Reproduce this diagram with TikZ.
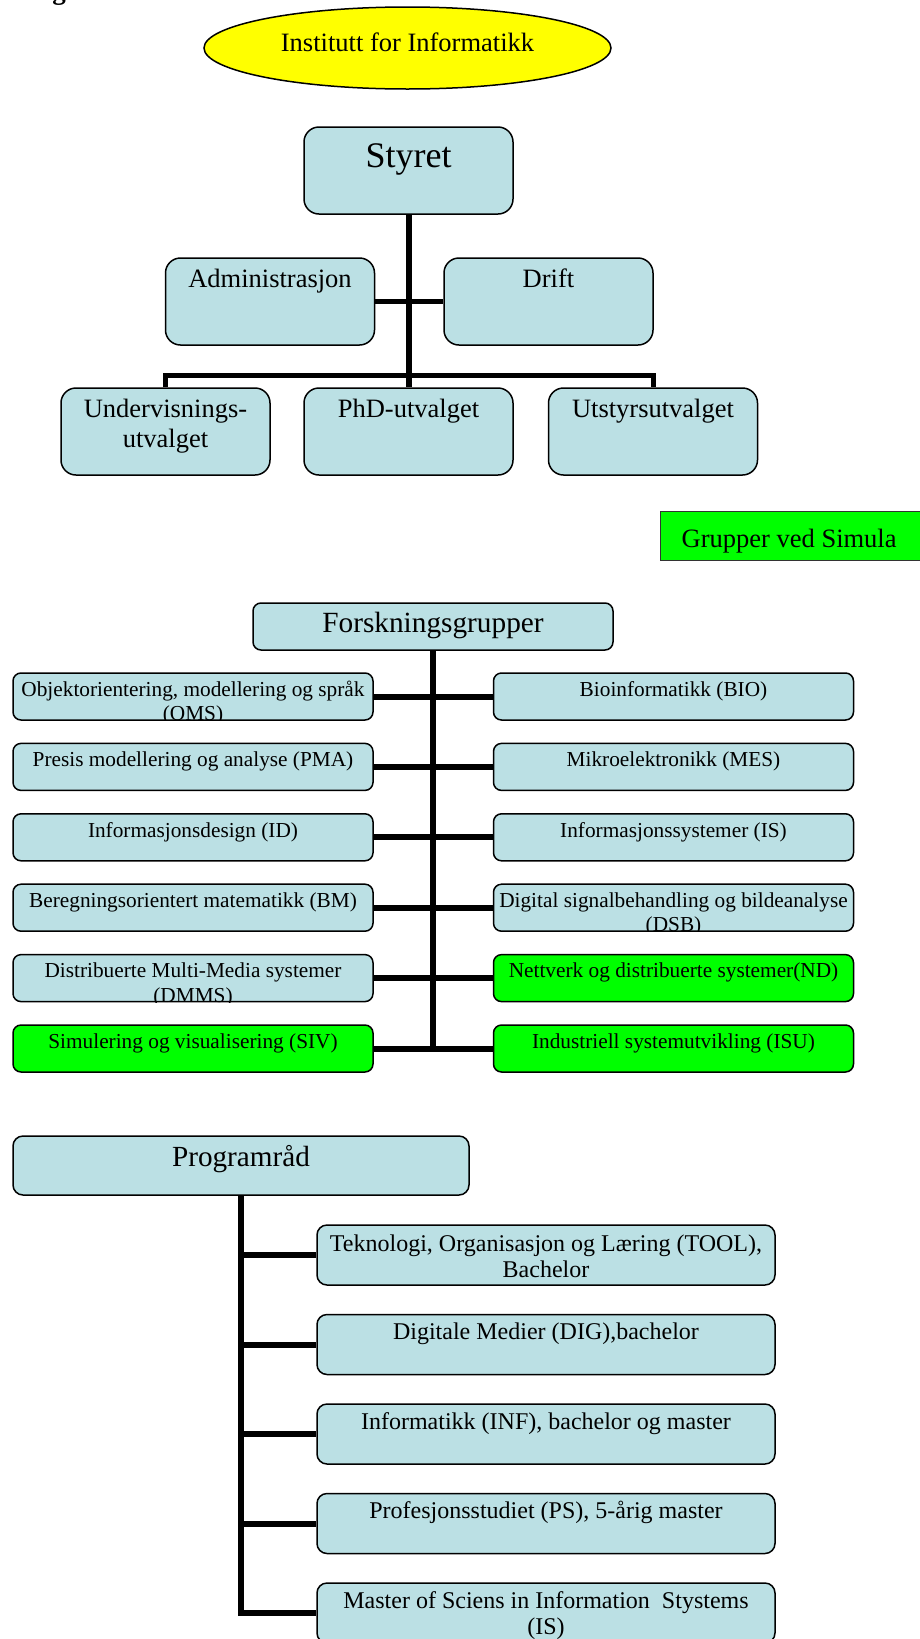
\documentclass[tikz,border=0pt]{standalone}
\usepackage{fontspec}
\setmainfont{Liberation Serif}
\usetikzlibrary{shapes.geometric}
\definecolor{lb}{RGB}{187,224,228}
\definecolor{gr}{RGB}{0,255,0}
\definecolor{ye}{RGB}{255,255,0}
\newcommand\fsz[1]{\fontsize{#1}{#1}\selectfont}
\newcommand\btxt[4]{\node[anchor=base,inner sep=0pt,font=#3] at ([yshift=-#2]#1.north) {#4};}
\begin{document}
\begin{tikzpicture}[x=1pt,y=-1pt,
  box/.style={draw=black,line width=1.5pt,rounded corners=8pt,inner sep=0pt,fill=lb},
  bigbox/.style={box,rounded corners=15pt,minimum width=209pt,minimum height=87pt},
  fbox/.style={box,minimum width=360pt,minimum height=47pt},
  pbox/.style={box,rounded corners=10pt,minimum width=458pt,minimum height=60pt},
  conn/.style={line width=6pt},
  thinconn/.style={line width=5pt}]
\useasboundingbox (0,0) rectangle (920,1639);

% fragment of heading at the top
\node[anchor=base,inner sep=0pt,font=\fsz{27}\bfseries] (hd) at (59,-1) {g};

% top ellipse
\node[ellipse,draw=black,line width=1.5pt,fill=ye,minimum width=407pt,minimum height=82pt,inner sep=0pt] (inst) at (407.5,48) {};
\btxt{inst}{45pt}{\fsz{26.5}}{Institutt for Informatikk}

% board
\node[bigbox] (sty) at (408.5,170.5) {};
\btxt{sty}{41pt}{\fsz{36}}{Styret}
\node[bigbox] (adm) at (270,301.5) {};
\btxt{adm}{30pt}{\fsz{26.5}}{Administrasjon}
\node[bigbox] (dri) at (548.5,301.5) {};
\btxt{dri}{30pt}{\fsz{26.5}}{Drift}
\node[bigbox] (und) at (165.5,431.5) {};
\btxt{und}{30pt}{\fsz{26.5}}{Undervisnings-}
\btxt{und}{60pt}{\fsz{26.5}}{utvalget}
\node[bigbox] (phd) at (408.5,431.5) {};
\btxt{phd}{30pt}{\fsz{26.5}}{PhD-utvalget}
\node[bigbox] (uts) at (653,431.5) {};
\btxt{uts}{30pt}{\fsz{26.5}}{Utstyrsutvalget}

\coordinate (bus) at (0,375);
\draw[conn] (sty.south) -- (phd.north);
\draw[thinconn] (adm.east) -- (dri.west);
\draw[thinconn] (und.north) -- (und.north |- bus) -- (uts.north |- bus) -- (uts.north);

% Simula legend
\node[draw=black!80,line width=1pt,fill=gr,minimum width=280pt,minimum height=49pt,inner sep=0pt] (sim) at (800,535.5) {};
\node[anchor=base west,inner sep=0pt,font=\fsz{26.5}] at ([xshift=22pt,yshift=-11.5pt]sim.west) {Grupper ved Simula};

% research groups
\node[fbox] (fg) at (433,626.5) {};
\btxt{fg}{30pt}{\fsz{29.3}}{Forskningsgrupper}

\node[fbox] (oms) at (193,696.5) {};
\node[fbox] (pma) at (193,766.9) {};
\node[fbox] (id) at (193,837.3) {};
\node[fbox] (bm) at (193,907.7) {};
\node[fbox] (dmms) at (193,978.1) {};
\node[fbox,fill=gr] (siv) at (193,1048.5) {};
\node[fbox] (bio) at (673.5,696.5) {};
\node[fbox] (mes) at (673.5,766.9) {};
\node[fbox] (is) at (673.5,837.3) {};
\node[fbox] (dsb) at (673.5,907.7) {};
\node[fbox,fill=gr] (nd) at (673.5,978.1) {};
\node[fbox,fill=gr] (isu) at (673.5,1048.5) {};

\btxt{oms}{24pt}{\fsz{21.3}}{Objektorientering, modellering og språk}
\btxt{pma}{24pt}{\fsz{21.3}}{Presis modellering og analyse (PMA)}
\btxt{id}{24pt}{\fsz{21.3}}{Informasjonsdesign (ID)}
\btxt{bm}{24pt}{\fsz{21.3}}{Beregningsorientert matematikk (BM)}
\btxt{dmms}{24pt}{\fsz{21.3}}{Distribuerte Multi-Media systemer}
\btxt{siv}{24pt}{\fsz{21.3}}{Simulering og visualisering (SIV)}
\btxt{bio}{24pt}{\fsz{21.3}}{Bioinformatikk (BIO)}
\btxt{mes}{24pt}{\fsz{21.3}}{Mikroelektronikk (MES)}
\btxt{is}{24pt}{\fsz{21.3}}{Informasjonssystemer (IS)}
\btxt{dsb}{24pt}{\fsz{21.3}}{Digital signalbehandling og bildeanalyse}
\btxt{nd}{24pt}{\fsz{21.3}}{Nettverk og distribuerte systemer(ND)}
\btxt{isu}{24pt}{\fsz{21.3}}{Industriell systemutvikling (ISU)}
% second lines, clipped by the box
\begin{scope}
\clip[rounded corners=8pt] (oms.south west) rectangle (oms.north east);
\btxt{oms}{48.5pt}{\fsz{21.3}}{(OMS)}
\end{scope}
\begin{scope}
\clip[rounded corners=8pt] (dmms.south west) rectangle (dmms.north east);
\btxt{dmms}{48.5pt}{\fsz{21.3}}{(DMMS)}
\end{scope}
\begin{scope}
\clip[rounded corners=8pt] (dsb.south west) rectangle (dsb.north east);
\btxt{dsb}{48.5pt}{\fsz{21.3}}{(DSB)}
\end{scope}

\draw[conn] (fg.south) -- (fg.south |- siv.east);
\foreach \l/\r in {oms/bio,pma/mes,id/is,bm/dsb,dmms/nd,siv/isu}
  \draw[conn] (\l.east) -- (\r.west);

% programme areas
\node[box,rounded corners=10pt,minimum width=456pt,minimum height=59pt] (pr) at (241,1165.5) {};
\btxt{pr}{31pt}{\fsz{29.2}}{Programråd}

\node[pbox] (tool) at (546,1255) {};
\node[pbox] (dig) at (546,1344.5) {};
\node[pbox] (inf) at (546,1434) {};
\node[pbox] (ps) at (546,1523.5) {};
\node[pbox] (mis) at (546,1613) {};
\btxt{tool}{27pt}{\fsz{24}}{Teknologi, Organisasjon og Læring (TOOL),}
\btxt{tool}{53pt}{\fsz{24}}{Bachelor}
\btxt{dig}{26pt}{\fsz{24}}{Digitale Medier (DIG),bachelor}
\btxt{inf}{26pt}{\fsz{24}}{Informatikk (INF), bachelor og master}
\btxt{ps}{26pt}{\fsz{24}}{Profesjonsstudiet (PS), 5-årig master}
\btxt{mis}{26pt}{\fsz{24}}{Master of Sciens in Information\ \ Stystems}
\btxt{mis}{52pt}{\fsz{24}}{(IS)}

\draw[conn] (pr.south) -- (pr.south |- mis.west) -- (mis.west);
\foreach \b in {tool,dig,inf,ps}
  \draw[conn] (pr.south |- \b.west) -- (\b.west);
\end{tikzpicture}
\end{document}
